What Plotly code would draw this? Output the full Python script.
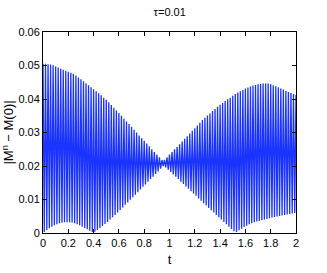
import numpy as np
import plotly.graph_objects as go

tau = 0.01

# upper peaks at t = 0, 0.02, ..., 2.00
upper = [
    0.0505, 0.0505, 0.0504, 0.0503, 0.0501, 0.0497, 0.0494, 0.0490, 0.0487, 0.0484,
    0.0481, 0.0478, 0.0475, 0.0470, 0.0464, 0.0459, 0.0453, 0.0447, 0.0441, 0.0435,
    0.0429, 0.0423, 0.0417, 0.0411, 0.0404, 0.0398, 0.0390, 0.0382, 0.0374, 0.0366,
    0.0358, 0.0350, 0.0341, 0.0333, 0.0325, 0.0317, 0.0308, 0.0300, 0.0291, 0.0283,
    0.0275, 0.0267, 0.0259, 0.0250, 0.0242, 0.0234, 0.0226, 0.0218, 0.0218, 0.0226,
    0.0234, 0.0242, 0.0250, 0.0257, 0.0265, 0.0273, 0.0281, 0.0289, 0.0297, 0.0305,
    0.0313, 0.0321, 0.0329, 0.0337, 0.0344, 0.0351, 0.0357, 0.0364, 0.0370, 0.0377,
    0.0383, 0.0388, 0.0394, 0.0399, 0.0404, 0.0410, 0.0415, 0.0419, 0.0423, 0.0427,
    0.0431, 0.0434, 0.0437, 0.0440, 0.0442, 0.0444, 0.0445, 0.0446, 0.0446, 0.0446,
    0.0444, 0.0441, 0.0438, 0.0435, 0.0431, 0.0428, 0.0424, 0.0421, 0.0418, 0.0415,
    0.0412,
]

# lower troughs at t = 0.01, 0.03, ..., 1.99
lower = [
    0.0003, 0.0009, 0.0014, 0.0019, 0.0023, 0.0026, 0.0029, 0.0031, 0.0032, 0.0032,
    0.0032, 0.0031, 0.0029, 0.0026, 0.0023, 0.0019, 0.0015, 0.0011, 0.0007, 0.0003,
    0.0004, 0.0009, 0.0015, 0.0021, 0.0027, 0.0033, 0.0040, 0.0047, 0.0054, 0.0061,
    0.0069, 0.0076, 0.0084, 0.0091, 0.0099, 0.0107, 0.0114, 0.0122, 0.0130, 0.0138,
    0.0145, 0.0153, 0.0161, 0.0168, 0.0176, 0.0184, 0.0192, 0.0200, 0.0196, 0.0189,
    0.0182, 0.0175, 0.0168, 0.0161, 0.0153, 0.0146, 0.0139, 0.0132, 0.0125, 0.0118,
    0.0111, 0.0103, 0.0096, 0.0089, 0.0082, 0.0075, 0.0068, 0.0061, 0.0054, 0.0047,
    0.0040, 0.0033, 0.0026, 0.0019, 0.0012, 0.0005, 0.0003, 0.0008, 0.0013, 0.0018,
    0.0022, 0.0026, 0.0029, 0.0032, 0.0034, 0.0036, 0.0038, 0.0040, 0.0042, 0.0044,
    0.0046, 0.0048, 0.0049, 0.0051, 0.0052, 0.0054, 0.0055, 0.0057, 0.0058, 0.0060,
]

x_ticks = [0, 0.2, 0.4, 0.6, 0.8, 1, 1.2, 1.4, 1.6, 1.8, 2]
x_tick_labels = ["0", "0.2", "0.4", "0.6", "0.8", "1", "1.2", "1.4", "1.6", "1.8", "2"]
y_ticks = [0, 0.01, 0.02, 0.03, 0.04, 0.05, 0.06]
y_tick_labels = ["0", "0.01", "0.02", "0.03", "0.04", "0.05", "0.06"]

# interleave: step n even -> upper, odd -> lower
values = []
for i in range(len(upper)):
    values.append(upper[i])
    if i < len(lower):
        values.append(lower[i])
t = np.arange(len(values)) * tau

FONT = "Liberation Sans Narrow, Arial Narrow, Liberation Sans, Arial, sans-serif"

fig = go.Figure()
fig.add_trace(go.Scatter(x=t, y=values, mode="lines",
                         line=dict(color="#1a33ff", width=1.3), showlegend=False))

axis_common = dict(showline=True, linecolor="black", linewidth=1, mirror="ticks",
                   ticks="inside", ticklen=4, tickcolor="black", showgrid=False,
                   zeroline=False, automargin=False,
                   tickfont=dict(family=FONT, size=11, color="black"))

fig.update_layout(
    width=327, height=273,
    margin=dict(l=43, r=31, t=32, b=40),
    paper_bgcolor="white", plot_bgcolor="white",
    title=dict(text="τ=0.01", x=0.519, xanchor="center", y=0.955, yanchor="middle",
               font=dict(family=FONT, size=11, color="black")),
    xaxis=dict(range=[0, 2], tickvals=x_ticks, ticktext=x_tick_labels,
               title=dict(text="t", standoff=6, font=dict(family=FONT, size=13, color="black")),
               **axis_common),
    yaxis=dict(range=[0, 0.06], tickvals=y_ticks, ticktext=y_tick_labels,
               title=dict(text="|M<sup>n</sup> − M(0)|", standoff=2,
                          font=dict(family=FONT, size=13, color="black")),
               **axis_common),
)

fig.write_html("out.html", config={"displayModeBar": False},
               post_script="document.body.style.margin='0';document.body.style.padding='0';")
